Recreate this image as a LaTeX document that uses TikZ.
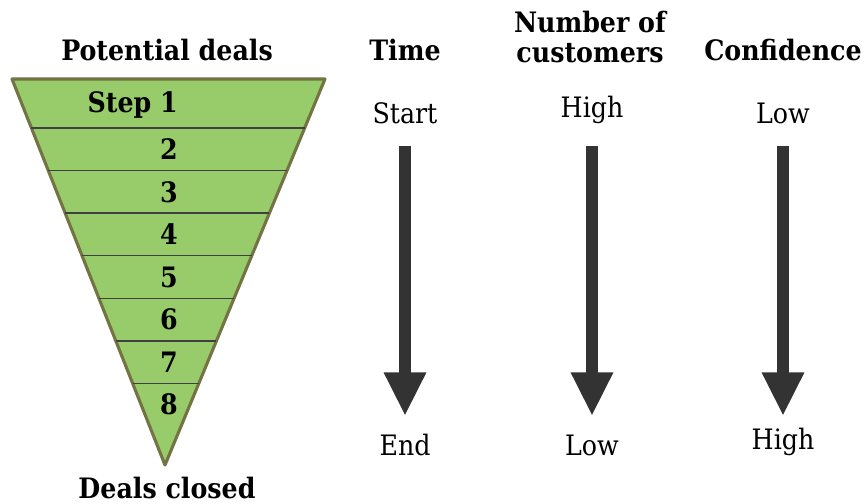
\documentclass[tikz,border=0pt]{standalone}
\usepackage{fontspec}
\setmainfont{DejaVu Serif Condensed}
\usetikzlibrary{calc}
\usetikzlibrary{arrows.meta}

\begin{document}
\begin{tikzpicture}[x=0.025cm,y=-0.025cm,
  head/.style={font=\bfseries\fontsize{20}{21.5}\selectfont,align=center,inner sep=0pt},
  lbl/.style={font=\fontsize{20}{21.5}\selectfont,inner sep=0pt},
  stage/.style={font=\bfseries\fontsize{20}{21.5}\selectfont,anchor=east,inner sep=0pt},
  down/.style={line width=9.2pt,draw=black!80,-{Triangle[width=28pt,length=31pt]}}]
  \useasboundingbox (0,0) rectangle (867,504);
  \definecolor{funnel}{HTML}{98CB6A}
  \definecolor{rim}{HTML}{737343}
  % funnel
  \coordinate (tl) at (12,79);
  \coordinate (tr) at (325,79);
  \coordinate (apex) at (165,465);
  \filldraw[fill=funnel,draw=rim,line width=2.2pt,line join=round] (tl)--(tr)--(apex)--cycle;
  \foreach \k in {0,...,6}
    \draw[line width=1pt,draw=black!75]
      ($(tl)!{(49+42.6*\k)/386}!(apex)$) -- ($(tr)!{(49+42.6*\k)/386}!(apex)$);
  \node[stage] (s1) at (178,105) {Step 1};
  \foreach \n [count=\i from 0] in {2,...,8}
    \node[stage] (s\n) at (178,149.5+42.5*\i) {\n};
  \node[head] (top) at (167,50) {Potential deals};
  \node[head] (bottom) at (167,488) {Deals closed};
  % columns
  \node[head] (time) at (405,50) {Time};
  \node[head] (cust) at (590,37) {Number of\\customers};
  \node[head] (conf) at (783,50) {Confidence};
  \node[lbl] (start) at (405,113) {Start};
  \node[lbl] (end) at (405,445) {End};
  \node[lbl] (high) at (592,110) {High};
  \node[lbl] (low) at (592,445) {Low};
  \node[lbl] (low2) at (783,113) {Low};
  \node[lbl] (high2) at (783,442) {High};
  \coordinate (shaft) at (0,146);
  \coordinate (tip) at (0,416);
  \draw[down] (start |- shaft) -- (end |- tip);
  \draw[down] (high |- shaft) -- (low |- tip);
  \draw[down] (low2 |- shaft) -- (high2 |- tip);
\end{tikzpicture}
\end{document}
